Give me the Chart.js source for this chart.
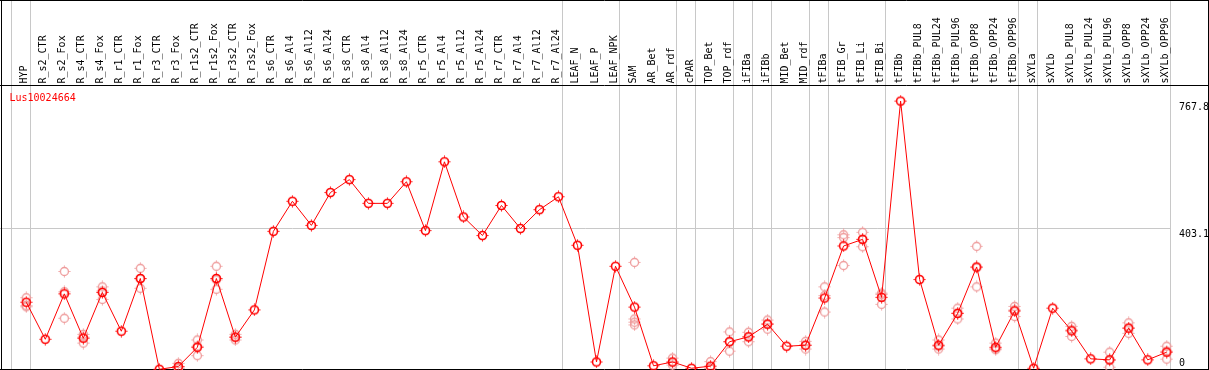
<!DOCTYPE html>
<html>
<head>
<meta charset="utf-8">
<script src="https://cdn.jsdelivr.net/npm/chart.js@4"></script>
<style>
  html, body { margin: 0; padding: 0; background: #fff; }
  canvas { display: block; }
</style>
</head>
<body>
<canvas id="exprChart" width="1209" height="370"></canvas>
<script>
// expression profile for one gene across sample groups
const geneName = "Lus10024664";

const samples = [
  "HYP", "R_s2_CTR", "R_s2_Fox", "R_s4_CTR", "R_s4_Fox", "R_r1_CTR", "R_r1_Fox",
  "R_r3_CTR", "R_r3_Fox", "R_r1s2_CTR", "R_r1s2_Fox", "R_r3s2_CTR", "R_r3s2_Fox",
  "R_s6_CTR", "R_s6_Al4", "R_s6_Al12", "R_s6_Al24", "R_s8_CTR", "R_s8_Al4",
  "R_s8_Al12", "R_s8_Al24", "R_r5_CTR", "R_r5_Al4", "R_r5_Al12", "R_r5_Al24",
  "R_r7_CTR", "R_r7_Al4", "R_r7_Al12", "R_r7_Al24", "LEAF_N", "LEAF_P", "LEAF_NPK",
  "SAM", "AR_Bet", "AR_rdf", "cPAR", "TOP_Bet", "TOP_rdf", "iFIBa", "iFIBb",
  "MID_Bet", "MID_rdf", "tFIBa", "tFIB_Gr", "tFIB_Li", "tFIB_Bi", "tFIBb",
  "tFIBb_PUL8", "tFIBb_PUL24", "tFIBb_PUL96", "tFIBb_OPP8", "tFIBb_OPP24", "tFIBb_OPP96",
  "sXYLa", "sXYLb", "sXYLb_PUL8", "sXYLb_PUL24", "sXYLb_PUL96", "sXYLb_OPP8",
  "sXYLb_OPP24", "sXYLb_OPP96"
];

const meanValues = [
  192, 86, 216, 89, 220, 109, 260,
  0, 8, 63, 260, 92, 170,
  395, 481, 412, 506, 543, 475,
  475, 537, 397, 594, 436, 383,
  469, 403, 457, 494, 355, 21, 295,
  178, 10, 21, 3, 9, 79, 93, 129,
  66, 69, 204, 353, 372, 206, 767.8,
  257, 69, 160, 293, 63, 167,
  3, 175, 110, 30, 27, 118,
  27, 49
];

// individual replicates (empty where they sit under the mean marker)
const replicates = [
  [205, 182, 179], [], [280, 146, 222], [100, 75, 92], [236, 200, 224], [], [289, 232, 259],
  [], [17, 4, 3], [84, 39, 66], [295, 229, 256], [100, 84, 92], [],
  [], [], [], [], [], [],
  [], [], [], [], [], [],
  [], [], [], [], [], [], [],
  [306, 144, 135, 127], [], [32, 12, 20], [], [22, 3, 2], [107, 52, 79], [106, 79, 93], [141, 115, 131],
  [], [80, 58, 69], [236, 211, 164], [377, 385, 297], [392, 351, 372], [218, 186, 214], [],
  [], [84, 58, 66], [175, 144, 161], [352, 236, 291], [75, 56, 59], [180, 151, 170],
  [], [], [123, 94, 113], [], [49, 6, 26], [133, 103, 118],
  [], [66, 29, 52]
];

const yTicks = [0, 403.1, 767.8];
// index of the last sample in each group (-1 = left edge)
const groupEnds = [-1, 0, 28, 31, 34, 35, 37, 38, 39, 41, 42, 45, 52, 53, 60];

const FONT = "10px 'DejaVu Sans Mono', monospace";

function makeMarker(color, width) {
  const c = document.createElement("canvas");
  c.width = 13;
  c.height = 13;
  const g = c.getContext("2d");
  g.strokeStyle = color;
  g.lineWidth = width;
  g.beginPath();
  g.arc(6.5, 6.5, 4, 0, Math.PI * 2);
  g.stroke();
  g.lineWidth = 1;
  g.beginPath();
  g.moveTo(6.5, 0.5); g.lineTo(6.5, 1.8);
  g.moveTo(6.5, 11.2); g.lineTo(6.5, 12.5);
  g.moveTo(0.5, 6.5); g.lineTo(1.8, 6.5);
  g.moveTo(11.2, 6.5); g.lineTo(12.5, 6.5);
  g.stroke();
  return c;
}

const repPoints = [];
replicates.forEach((reps, i) => {
  reps.forEach(v => repPoints.push({ x: samples[i], y: v }));
});

const framePlugin = {
  id: "frame",
  beforeDatasetsDraw(chart) {
    const { ctx, scales: { x, y } } = chart;
    const W = chart.width, H = chart.height;
    ctx.save();

    // grey group separators
    ctx.strokeStyle = "#c8c8c8";
    ctx.lineWidth = 1;
    let lastX = 0;
    groupEnds.forEach(i => {
      const px = Math.floor(x.getPixelForValue(i) + 4) + 0.5;
      lastX = px;
      ctx.beginPath();
      ctx.moveTo(px, 0);
      ctx.lineTo(px, H);
      ctx.stroke();
    });
    const gy = Math.floor(y.getPixelForValue(yTicks[1])) + 0.5;
    ctx.beginPath();
    ctx.moveTo(0, gy);
    ctx.lineTo(lastX, gy);
    ctx.stroke();

    // sample names, rotated
    ctx.fillStyle = "#000";
    ctx.font = FONT;
    ctx.textAlign = "left";
    ctx.textBaseline = "alphabetic";
    samples.forEach((name, i) => {
      ctx.save();
      ctx.translate(x.getPixelForValue(i) + 1, 83.5);
      ctx.rotate(-Math.PI / 2);
      ctx.fillText(name, 0, 0);
      ctx.restore();
    });

    // value labels on the right
    yTicks.forEach(v => {
      let py = y.getPixelForValue(v) + 8.5;
      if (py > H - 4) py = H - 4.5;
      ctx.fillText(String(v), 1179, py);
    });

    // gene name
    ctx.fillStyle = "#ff0000";
    ctx.fillText(geneName, 9.5, 101);

    // black frame
    ctx.strokeStyle = "#000";
    ctx.beginPath();
    ctx.moveTo(0, 0.5); ctx.lineTo(W, 0.5);
    ctx.moveTo(0, 85.5); ctx.lineTo(W, 85.5);
    ctx.moveTo(0, 369.5); ctx.lineTo(W, 369.5);
    ctx.moveTo(1.5, 0); ctx.lineTo(1.5, H);
    ctx.moveTo(W - 0.5, 0); ctx.lineTo(W - 0.5, H);
    ctx.stroke();
    ctx.restore();
  }
};

new Chart(document.getElementById("exprChart"), {
  type: "line",
  data: {
    labels: samples,
    datasets: [
      {
        label: "mean",
        data: meanValues,
        borderColor: "#ff0000",
        borderWidth: 1,
        tension: 0,
        pointStyle: makeMarker("#ff0000", 1.6),
        pointRadius: 5,
        order: 0,
        clip: false
      },
      {
        label: "replicates",
        data: repPoints,
        showLine: false,
        pointStyle: makeMarker("#ee9a9a", 1.3),
        pointRadius: 5,
        order: 1,
        clip: false
      }
    ]
  },
  options: {
    responsive: false,
    devicePixelRatio: 1,
    animation: false,
    events: [],
    layout: { autoPadding: false, padding: { left: 26.3, right: 42.3, top: 86, bottom: 0.7 } },
    plugins: { legend: { display: false }, tooltip: { enabled: false } },
    scales: {
      x: { display: false, offset: false },
      y: { display: false, min: 0, max: 811 }
    }
  },
  plugins: [framePlugin]
});
</script>
</body>
</html>
